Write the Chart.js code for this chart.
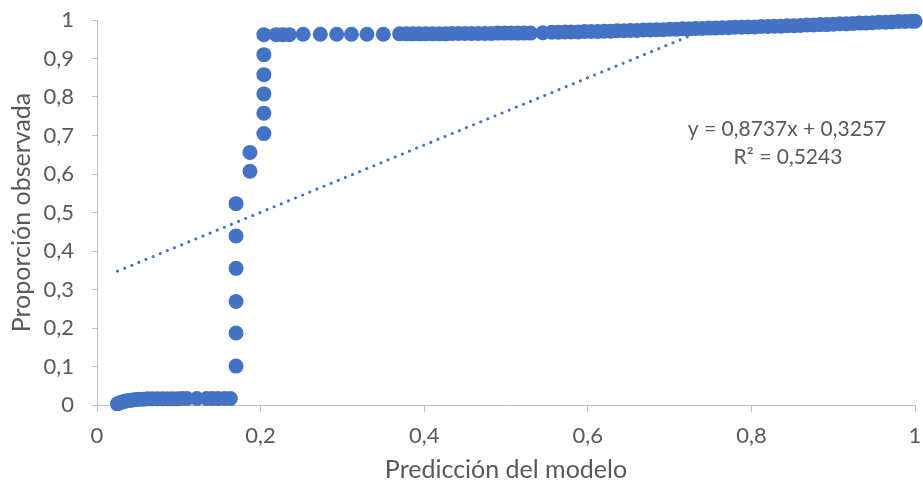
<!DOCTYPE html>
<html>
<head>
<meta charset="utf-8">
<script src="https://cdn.jsdelivr.net/npm/chart.js@4.4.1/dist/chart.umd.min.js"></script>
<style>
  html, body { margin: 0; padding: 0; background: #fff; }
  #wrap { width: 923px; height: 485px; position: relative; }
</style>
</head>
<body>
<div id="wrap"><canvas id="chart"></canvas></div>
<script>
// ── Data ─────────────────────────────────────────────────────────────────────
// low plateau (observed ~0)
const lowX = [0.025, 0.028, 0.031, 0.034, 0.037, 0.040, 0.044, 0.048, 0.052, 0.057,
              0.062, 0.068, 0.074, 0.080, 0.086, 0.092, 0.098, 0.104, 0.110, 0.122,
              0.134, 0.141, 0.148, 0.156, 0.163];
const lowY = [0.003, 0.006, 0.008, 0.010, 0.011, 0.012, 0.013, 0.014, 0.015, 0.015,
              0.016, 0.016, 0.016, 0.016, 0.016, 0.016, 0.016, 0.017, 0.017, 0.017,
              0.017, 0.017, 0.017, 0.017, 0.017];

// the jump around 0.17–0.20
const riseX = [0.170, 0.170, 0.170, 0.170, 0.170, 0.170, 0.187, 0.187,
               0.204, 0.204, 0.204, 0.204, 0.204, 0.204];
const riseY = [0.101, 0.187, 0.269, 0.355, 0.439, 0.523, 0.607, 0.656,
               0.705, 0.758, 0.808, 0.858, 0.910, 0.962];

// high plateau (observed ~1)
const topX = [0.219, 0.227, 0.235, 0.252, 0.273, 0.293, 0.311, 0.330, 0.350,
              0.370, 0.378, 0.386, 0.394, 0.402, 0.410, 0.418, 0.426, 0.434, 0.442,
              0.450, 0.458, 0.466, 0.474, 0.482, 0.490, 0.498, 0.506, 0.514, 0.522,
              0.530, 0.545,
              0.556, 0.564, 0.572, 0.580, 0.588, 0.596, 0.604, 0.612, 0.620, 0.628,
              0.636, 0.644, 0.652, 0.660, 0.668, 0.676, 0.684, 0.692, 0.700, 0.708,
              0.716, 0.724, 0.732, 0.740, 0.748, 0.756, 0.764, 0.772, 0.780, 0.788,
              0.796, 0.804, 0.812, 0.820, 0.828, 0.836, 0.844, 0.852, 0.860, 0.868,
              0.876, 0.884, 0.892, 0.900, 0.908, 0.916, 0.924, 0.932, 0.940, 0.948,
              0.956, 0.964, 0.972, 0.980, 0.988, 0.996, 1.000];
const topY = [0.962, 0.962, 0.962, 0.963, 0.963, 0.963, 0.963, 0.963, 0.963,
              0.964, 0.964, 0.964, 0.964, 0.964, 0.964, 0.964, 0.964, 0.965, 0.965,
              0.965, 0.965, 0.965, 0.965, 0.965, 0.966, 0.966, 0.966, 0.966, 0.966,
              0.966, 0.967,
              0.968, 0.968, 0.969, 0.969, 0.969, 0.970, 0.970, 0.970, 0.971, 0.971,
              0.972, 0.972, 0.973, 0.973, 0.974, 0.974, 0.975, 0.975, 0.976, 0.976,
              0.977, 0.977, 0.978, 0.978, 0.979, 0.979, 0.980, 0.980, 0.981, 0.981,
              0.982, 0.982, 0.983, 0.983, 0.984, 0.984, 0.985, 0.985, 0.986, 0.987,
              0.987, 0.988, 0.988, 0.989, 0.990, 0.990, 0.991, 0.992, 0.992, 0.993,
              0.994, 0.994, 0.995, 0.996, 0.996, 0.997, 0.997];

// linear trendline as printed on the chart
const trendSlope = 0.8737;
const trendIntercept = 0.3257;
const trendRange = [0.025, 1.0];
const trendLabels = ['y = 0,8737x + 0,3257', 'R² = 0,5243'];

const xTicks = [0, 0.2, 0.4, 0.6, 0.8, 1];
const yTicks = [0, 0.1, 0.2, 0.3, 0.4, 0.5, 0.6, 0.7, 0.8, 0.9, 1];

// ── Styling ──────────────────────────────────────────────────────────────────
const BLUE = '#4472C4';
const TEXT = '#595959';
const AXIS = '#BFBFBF';
const FONT = "Lato, 'Open Sans', sans-serif";

const toPts = (xs, ys) => xs.map((x, i) => ({ x, y: ys[i] }));
const points = [...toPts(lowX, lowY), ...toPts(riseX, riseY), ...toPts(topX, topY)];
const trend = trendRange.map(x => ({ x, y: trendSlope * x + trendIntercept }));

const fmt = v => String(Math.round(v * 10) / 10).replace('.', ',');

const eqPlugin = {
  id: 'eqText',
  afterDraw(chart) {
    const { ctx } = chart;
    ctx.save();
    ctx.font = `21px ${FONT}`;
    ctx.fillStyle = TEXT;
    ctx.textAlign = 'center';
    ctx.textBaseline = 'middle';
    ctx.fillText(trendLabels[0], 787, 129);
    ctx.fillText(trendLabels[1], 788, 157);
    ctx.restore();
  },
};

new Chart(document.getElementById('chart'), {
  type: 'scatter',
  data: {
    datasets: [
      {
        label: 'Lineal',
        data: trend,
        showLine: true,
        pointRadius: 0,
        borderColor: BLUE,
        borderWidth: 3,
        borderDash: [0.1, 7.6],
        borderCapStyle: 'round',
        order: 0,
      },
      {
        label: 'Observado',
        data: points,
        pointRadius: 7.5,
        pointHoverRadius: 7.5,
        pointBackgroundColor: BLUE,
        pointBorderWidth: 0,
        clip: false,
        order: 1,
      },
    ],
  },
  options: {
    responsive: true,
    maintainAspectRatio: false,
    animation: false,
    layout: { padding: { top: 20, right: 8, left: 0, bottom: 0 } },
    plugins: { legend: { display: false }, tooltip: { enabled: false } },
    scales: {
      x: {
        type: 'linear',
        min: 0, max: 1,
        afterBuildTicks: s => { s.ticks = xTicks.map(value => ({ value })); },
        afterFit: s => { s.height = 80; s.paddingLeft = 0; s.paddingRight = 0; },
        ticks: { color: TEXT, font: { family: FONT, size: 22 }, padding: 11, callback: fmt },
        grid: { drawOnChartArea: false, drawTicks: true, tickLength: 7, color: AXIS },
        border: { color: AXIS, width: 1 },
        title: {
          display: true, text: 'Predicción del modelo', color: TEXT,
          font: { family: FONT, size: 25 }, padding: { top: 0, bottom: 0 },
        },
      },
      y: {
        type: 'linear',
        min: 0, max: 1,
        afterBuildTicks: s => { s.ticks = yTicks.map(value => ({ value })); },
        afterFit: s => { s.width = 97; s.paddingTop = 0; s.paddingBottom = 0; },
        ticks: { color: TEXT, font: { family: FONT, size: 22 }, padding: 18, callback: fmt },
        grid: { drawOnChartArea: false, drawTicks: true, tickLength: 5, color: AXIS },
        border: { color: AXIS, width: 1 },
        title: {
          display: true, text: 'Proporción observada', color: TEXT,
          font: { family: FONT, size: 25 }, padding: { top: 7, bottom: 0 },
        },
      },
    },
  },
  plugins: [eqPlugin],
});
</script>
</body>
</html>
